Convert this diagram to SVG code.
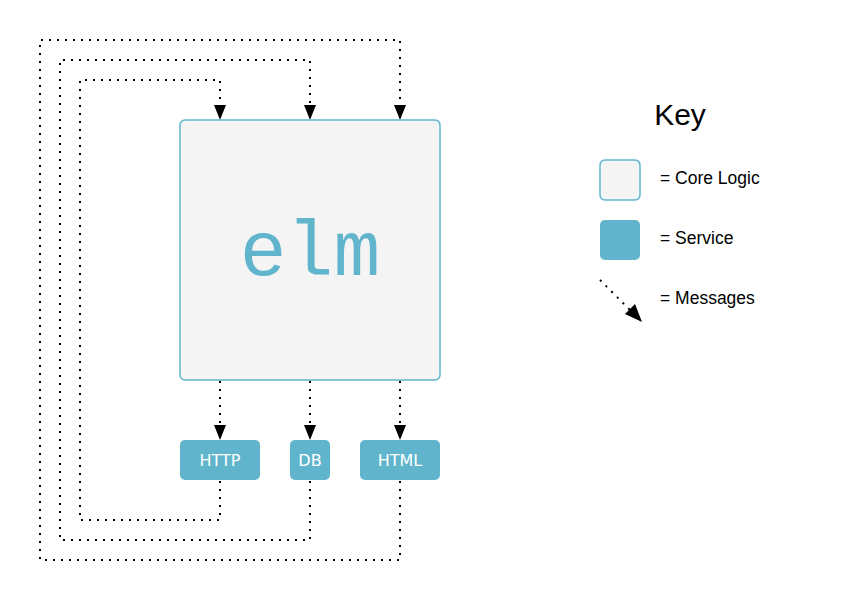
<svg xmlns="http://www.w3.org/2000/svg" width="860" height="600" viewBox="0 0 860 600">
<style>
.core{fill:#f4f4f4;stroke:#60b5cc;stroke-width:1.5}
.svc{fill:#60b5cc}
.svct{fill:#fff;font-family:"DejaVu Sans",sans-serif;font-size:16px;text-anchor:middle}
.msg{fill:none;stroke:#000;stroke-width:2;stroke-dasharray:2 6}
.key{font-family:"Liberation Sans",Arial,sans-serif;fill:#000}
.logo{fill:#60b5cc;font-family:"Liberation Mono","Courier New",monospace;font-size:78px;text-anchor:middle}
</style>
<rect width="860" height="600" fill="#fff"/>
<g id="connectors">
<path class="msg" d="M220,481 V520 H80 V80 H220 V106"/>
<path class="msg" d="M310,481 V540 H60 V60 H310 V106"/>
<path class="msg" d="M400,481 V560 H40 V40 H400 V106"/>
<polygon points="214,105 226,105 220,120" fill="#000"/>
<polygon points="304,105 316,105 310,120" fill="#000"/>
<polygon points="394,105 406,105 400,120" fill="#000"/>
<path class="msg" d="M220,381 V426"/>
<path class="msg" d="M310,381 V426"/>
<path class="msg" d="M400,381 V426"/>
<polygon points="214,425 226,425 220,440" fill="#000"/>
<polygon points="304,425 316,425 310,440" fill="#000"/>
<polygon points="394,425 406,425 400,440" fill="#000"/>
</g>
<g id="elm">
<rect class="core" x="180" y="120" width="260" height="260" rx="5"/>
<text class="logo" x="310" y="275">elm</text>
</g>
<g id="http">
<rect class="svc" x="180" y="440" width="80" height="40" rx="5"/>
<text class="svct" x="220" y="466">HTTP</text>
</g>
<g id="db">
<rect class="svc" x="290" y="440" width="40" height="40" rx="5"/>
<text class="svct" x="310" y="466">DB</text>
</g>
<g id="html">
<rect class="svc" x="360" y="440" width="80" height="40" rx="5"/>
<text class="svct" x="400" y="466">HTML</text>
</g>
<g id="legend">
<text class="key" x="680" y="125" font-size="30" text-anchor="middle">Key</text>
<rect class="core" x="600" y="160" width="40" height="40" rx="5"/>
<text class="key" x="660" y="184" font-size="17.5">= Core Logic</text>
<rect class="svc" x="600" y="220" width="40" height="40" rx="5"/>
<text class="key" x="660" y="244" font-size="17.5">= Service</text>
<path class="msg" d="M600,280 L630,310"/>
<polygon points="625,314 635,304 642,322" fill="#000"/>
<text class="key" x="660" y="304" font-size="17.5">= Messages</text>
</g>
</svg>
